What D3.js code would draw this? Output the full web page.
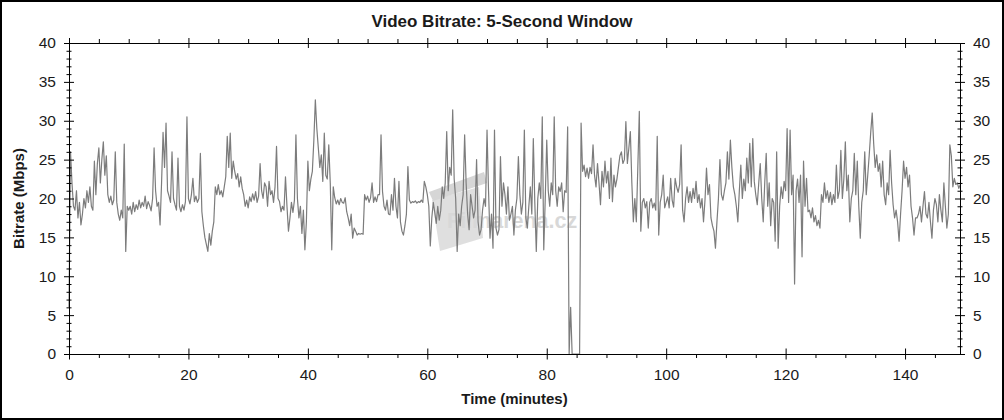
<!DOCTYPE html>
<html><head><meta charset="utf-8">
<script src="https://cdn.jsdelivr.net/npm/d3@7"></script>
<style>
body{margin:0;background:#fff}
svg{display:block;font-family:Arial,"Liberation Sans",sans-serif}
</style>
</head><body>
<svg id="chart" width="1004" height="420"></svg>
<script>
// ---------- data ----------
const chartTitle = "Video Bitrate: 5-Second Window";
const xAxisTitle = "Time (minutes)";
const yAxisTitle = "Bitrate (Mbps)";
const watermarkText = "Filmarena.cz";
const xTickLabels = [0, 20, 40, 60, 80, 100, 120, 140];
const yTickLabels = [0, 5, 10, 15, 20, 25, 30, 35, 40];
const xMinorTicks = [5, 10, 15, 25, 30, 35, 45, 50, 55, 65, 70, 75, 85, 90, 95, 105, 110, 115, 125, 130, 135, 145];
const yMinorTicks = [1,2,3,4,6,7,8,9,11,12,13,14,16,17,18,19,21,22,23,24,26,27,28,29,31,32,33,34,36,37,38,39];
const timeDomain = [0, 149.2];
const bitrateDomain = [0, 40];
const sampleStepMinutes = 0.25;   // one reading every 15 s, starting at minute 0
const bitrateMbps = [
  6, 26, 22, 19,   18.5, 21, 17.5, 19.5,   16.6, 18, 20, 18.8,   21, 19.5, 21.5, 19,   18.5, 24.8, 20.5, 24.5,
  26.5, 22, 25, 27.3,   23, 25.5, 20.5, 19.5,   20.3, 19.2, 19.8, 26,   19.5, 18, 17.2, 18.5,   17.5, 27, 13.2, 19,
  18.5, 19, 18, 19.5,   18.3, 19.2, 18.6, 19.8,   18.8, 19.5, 19, 20.3,   18.7, 19.6, 19.1, 18.4,   20, 26.5, 21, 19,
  19.5, 16.6, 22, 28.5,   24, 29.7, 21, 20.3,   19.5, 26, 20, 19.2,   18.5, 25.2, 19, 18.3,   19.2, 18.5, 19.6, 30.5,
  20, 19.3, 20.5, 22.6,   19.6, 20.3, 19.5, 20,   25.8, 18.3, 16.5, 15,   14.1, 13.2, 15.5, 14,   15.8, 17, 21.5, 20.5,
  21.8, 20.5, 21, 20.2,   21.5, 22.8, 28, 24,   28.4, 22.6, 24.8, 23.5,   22.5, 23.2, 21.5, 22.8,   21.3, 20.5, 19, 19.8,
  18.8, 20.2, 19.6, 20.6,   19.8, 20.9, 19.5, 20.3,   24.5, 21, 20, 22,   21.5, 19, 22.2, 20.5,   21, 19.5, 21.5, 26.7,
  20, 19.6, 18.3, 19,   18.5, 22.8, 19, 15.8,   17.5, 19.5, 18.2, 19.8,   28.2, 20, 17.5, 19,   15.5, 18.5, 13.4, 17,
  24.8, 21, 22.5, 23.5,   27.5, 32.7, 29, 26.5,   24, 25.6, 22.2, 28.4,   23, 22.5, 26.9, 22,   13.4, 21.5, 20.1, 19.3,
  19.8, 19.2, 20, 19.5,   19.4, 20.1, 18.3, 17.5,   16.5, 18, 14.9, 16.2,   15.8, 15.3, 15.5, 15.4,   15.5, 15.4, 20.5, 19.8,
  20.3, 19.5, 20.1, 22,   19.5, 20.2, 19.6, 20.5,   20.5, 28.2, 20.9, 19,   18.5, 19.8, 18, 17.9,   20.5, 18.5, 22.6, 19,
  17.5, 22.2, 17, 15.8,   15.3, 16.5, 18, 24.1,   19.8, 19.4, 19.6, 19.5,   19.7, 19.4, 19.6, 19.5,   19.8, 19.5, 22.2, 21.5,
  20.5, 19, 13.9, 17.5,   19.5, 18.2, 16.8, 19,   17.2, 18.5, 21.5, 20,   22, 28.6, 21, 24,   23, 31.4, 22.5, 20,
  13.2, 18, 16.5, 19,   20.5, 28.2, 22, 18,   16, 20.5, 19, 17.5,   18.5, 25, 17, 15.3,   16, 18.5, 20, 19,
  28.8, 21, 14.9, 18,   13.6, 28.8, 16.2, 15.3,   16, 25.4, 19, 22,   20.5, 18, 21.5, 17.2,   18, 19, 15.3, 18.5,
  20, 25.4, 20.5, 18,   19.5, 28.8, 17.5, 16.2,   19, 21.5, 18, 27.7,   19.5, 13.2, 20, 22,   20, 30.5, 13.4, 20,
  27.5, 21, 19, 22,   20.5, 30.5, 21, 19,   21.5, 20.9, 22, 18.3,   21, 20.8, 29.2, 0,   6, 0, 0, 0,
  0, 0, 0, 29.7,   23.5, 24.3, 22.8, 23.9,   22.6, 24, 23.2, 26.9,   23, 21.5, 24.5, 22,   19.2, 23.5, 21.5, 24.8,
  22, 23.5, 20, 25.2,   19.6, 23, 21.5, 22.5,   24, 25.5, 26, 24.5,   25, 29.9, 24.5, 26.5,   28.6, 22, 17, 20,
  17, 24, 31.2, 15.8,   19.5, 20, 18.8, 19.6,   16.2, 19.5, 20, 18.8,   19.4, 18.5, 28, 15.3,   19.5, 20.5, 23, 18.8,
  19.5, 20.2, 18.8, 22.6,   19.8, 18.9, 22.6, 21.5,   20.8, 21.8, 26.9, 18.5,   17, 20, 21.5, 19.5,   20.9, 19.5, 21.3, 20,
  22.2, 19.5, 20.5, 18.8,   20, 17, 19.8, 23.9,   20.5, 21.8, 17.5, 16.5,   15.8, 13.6, 17, 20,   25, 20.5, 19.8, 21,
  22, 26, 22.5, 27.5,   24, 21.5, 20.5, 19,   17, 21, 24.3, 20,   22.5, 21, 25.2, 22,   27.1, 21.5, 27.7, 22.2,
  20.5, 19.2, 22, 24.5,   20, 17, 22, 25.8,   19, 22, 16.5, 20,   19.5, 14.5, 26, 13.6,   19, 21.5, 20, 22.2,
  21, 29, 19.5, 28.8,   20.5, 23, 9, 21,   22.5, 19.5, 23, 12.5,   24.8, 19, 22.6, 18.3,   18.5, 17.5, 18.8, 17,
  17.8, 16.5, 17.2, 16.2,   20.5, 19.5, 22, 20,   21, 19.5, 20.8, 19.2,   20.5, 19.5, 24.3, 20,   21, 26.2, 20, 22.5,
  27.3, 21, 23, 17,   20, 21, 25.8, 20.5,   24.8, 19, 14.9, 19.5,   21, 26, 20.5, 23,   25.6, 28.5, 31, 27,
  24, 25.6, 23.5, 24.5,   21.5, 24.8, 20.5, 19.2,   22, 20.5, 26.2, 22,   19.2, 17.5, 18.5, 17,   14.5, 18, 21, 24.8,
  22.6, 24, 21.5, 23,   19, 17.5, 15.3, 17.5,   17.5, 18, 19, 17,   19, 20.9, 18, 17.5,   19.5, 17, 14.9, 18.5,
  20, 19.2, 17, 20.5,   18.5, 17, 22, 19,   16.2, 18, 26.9, 25.5,   21.5, 22.6, 21.8, 22,   21.3, 21.8
];

// ---------- layout ----------
const svg = d3.select("#chart");
const plot = {left: 69, right: 960, top: 43, bottom: 354};
const x = d3.scaleLinear().domain(timeDomain).range([plot.left, plot.right]);
const y = d3.scaleLinear().domain(bitrateDomain).range([plot.bottom, plot.top]);
const ink = "#1a1a1a";

// outer frame
svg.append("rect").attr("x", 1).attr("y", 1).attr("width", 1002).attr("height", 418)
  .attr("fill", "#fff").attr("stroke", "#000").attr("stroke-width", 2);

// watermark
const wm = svg.append("g").attr("opacity", 0.9);
wm.append("path").attr("d", "M432,200 L479,187 L483,238 L440,251 Z").attr("fill", "#dcdcdc");
wm.append("path").attr("d", "M429,192 L484,172 L487,183 L433,201 Z").attr("fill", "#d2d2d2");
wm.append("text").attr("x", 447).attr("y", 228).attr("font-size", 21.5).attr("font-weight", "bold")
  .attr("fill", "#d4d4d4").text(watermarkText);

// data line
const series = bitrateMbps.map((v, i) => ({t: i * sampleStepMinutes, v}));
svg.append("path").datum(series)
  .attr("fill", "none").attr("stroke", "#7c7c7c").attr("stroke-width", 1.2)
  .attr("stroke-linejoin", "round")
  .attr("d", d3.line().x(d => x(d.t)).y(d => y(d.v)));

// ---------- axes ----------
function styleAxis(g) {
  g.selectAll("path.domain").attr("stroke", "#000");
  g.selectAll(".tick line").attr("stroke", "#000");
  g.selectAll("text").attr("fill", ink).attr("font-family", "Arial, 'Liberation Sans', sans-serif");
}

// left
const gl = svg.append("g").attr("transform", `translate(${plot.left},0)`)
  .call(d3.axisLeft(y).tickValues(yTickLabels).tickSize(5).tickSizeOuter(0).tickFormat(d3.format("d")));
gl.selectAll(".tick line").attr("x1", 5);
gl.selectAll(".tick text").attr("x", -13).attr("font-size", 15.5);
const glm = svg.append("g").attr("transform", `translate(${plot.left},0)`)
  .call(d3.axisLeft(y).tickValues(yMinorTicks).tickSize(2.5).tickSizeOuter(0).tickFormat(""));
glm.selectAll(".tick line").attr("x1", 2.5);
glm.select("path.domain").remove();
styleAxis(gl); styleAxis(glm);

// right
const gr = svg.append("g").attr("transform", `translate(${plot.right},0)`)
  .call(d3.axisRight(y).tickValues(yTickLabels).tickSize(5).tickSizeOuter(0).tickFormat(d3.format("d")));
gr.selectAll(".tick line").attr("x1", -5);
gr.selectAll(".tick text").attr("x", 13).attr("font-size", 15.5);
const grm = svg.append("g").attr("transform", `translate(${plot.right},0)`)
  .call(d3.axisRight(y).tickValues(yMinorTicks).tickSize(2.5).tickSizeOuter(0).tickFormat(""));
grm.selectAll(".tick line").attr("x1", -2.5);
grm.select("path.domain").remove();
styleAxis(gr); styleAxis(grm);

// bottom
const gb = svg.append("g").attr("transform", `translate(0,${plot.bottom})`)
  .call(d3.axisBottom(x).tickValues(xTickLabels).tickSize(5.5).tickSizeOuter(0).tickFormat(d3.format("d")));
gb.selectAll(".tick line").attr("y1", -5.5);
gb.selectAll(".tick text").attr("y", 15).attr("font-size", 15.5);
const gbm = svg.append("g").attr("transform", `translate(0,${plot.bottom})`)
  .call(d3.axisBottom(x).tickValues(xMinorTicks).tickSize(4).tickSizeOuter(0).tickFormat(""));
gbm.select("path.domain").remove();
styleAxis(gb); styleAxis(gbm);

// top
const gt = svg.append("g").attr("transform", `translate(0,${plot.top})`)
  .call(d3.axisTop(x).tickValues(xTickLabels).tickSize(5).tickSizeOuter(0).tickFormat(""));
gt.selectAll(".tick line").attr("y1", 5);
const gtm = svg.append("g").attr("transform", `translate(0,${plot.top})`)
  .call(d3.axisTop(x).tickValues(xMinorTicks).tickSize(4).tickSizeOuter(0).tickFormat(""));
gtm.select("path.domain").remove();
styleAxis(gt); styleAxis(gtm);

// ---------- titles ----------
svg.append("text").attr("x", 502).attr("y", 27).attr("text-anchor", "middle")
  .attr("font-size", 17).attr("font-weight", "bold").attr("fill", ink).text(chartTitle);
svg.append("text").attr("x", (plot.left + plot.right) / 2).attr("y", 404).attr("text-anchor", "middle")
  .attr("font-size", 15).attr("font-weight", "bold").attr("fill", ink).text(xAxisTitle);
svg.append("text").attr("transform", `translate(24,${(plot.top + plot.bottom) / 2}) rotate(-90)`)
  .attr("text-anchor", "middle").attr("font-size", 15).attr("font-weight", "bold").attr("fill", ink).text(yAxisTitle);
</script>
</body></html>
